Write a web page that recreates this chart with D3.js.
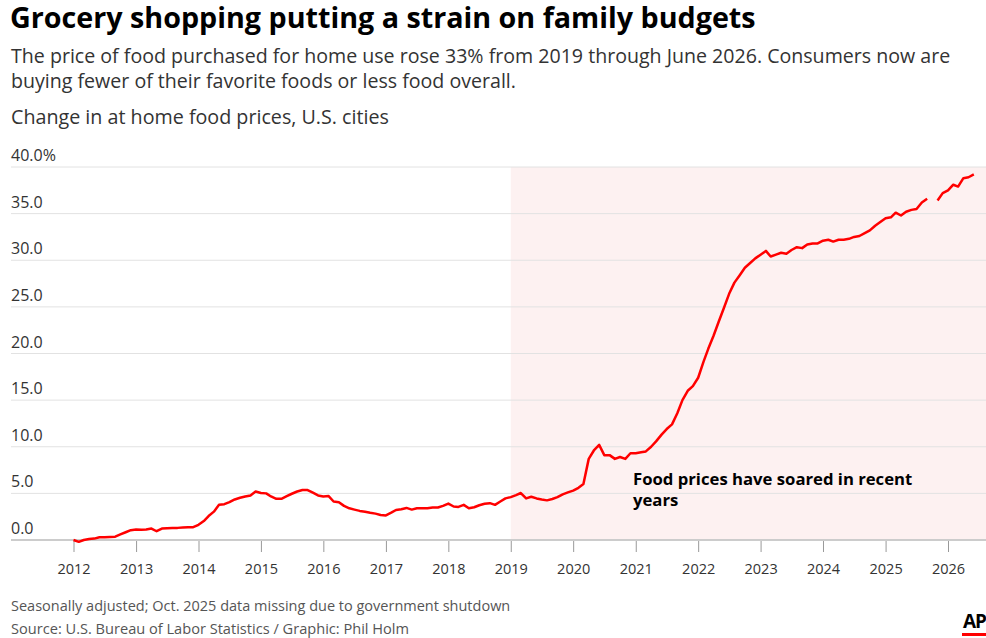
<!DOCTYPE html>
<html>
<head>
<meta charset="utf-8">
<script src="https://cdn.jsdelivr.net/npm/d3@7"></script>
<style>
  body { margin: 0; background: #fff; }
  svg text { font-family: "Open Sans", "Noto Sans", sans-serif; }
</style>
</head>
<body>
<div id="chart"></div>
<script>
const width = 986
const height = 638

// monthly change in at-home food prices, % since Jan 2012 (Oct 2025 missing)
const startMonth = new Date(2012, 0, 1)
const values = [
  0.0, -0.2, 0.0, 0.1, 0.15, 0.3, 0.3, 0.33, 0.36, 0.6, 0.83, 1.05,       // 2012
  1.12, 1.09, 1.12, 1.23, 0.94, 1.23, 1.27, 1.3, 1.3, 1.34, 1.38, 1.38,   // 2013
  1.63, 2.03, 2.57, 3.04, 3.77, 3.84, 4.06, 4.35, 4.53, 4.67, 4.78, 5.2,  // 2014
  5.04, 5.0, 4.67, 4.42, 4.42, 4.7, 4.96, 5.2, 5.36, 5.36, 5.07, 4.78,    // 2015
  4.67, 4.71, 4.13, 4.06, 3.66, 3.4, 3.26, 3.12, 3.04, 2.93, 2.83, 2.68,  // 2016
  2.64, 2.93, 3.22, 3.3, 3.44, 3.26, 3.4, 3.4, 3.4, 3.48, 3.48, 3.66,     // 2017
  3.91, 3.59, 3.55, 3.77, 3.4, 3.51, 3.73, 3.88, 3.95, 3.77, 4.13, 4.46,  // 2018
  4.6, 4.82, 5.04, 4.46, 4.64, 4.46, 4.35, 4.25, 4.4, 4.6, 4.9, 5.1,      // 2019
  5.3, 5.6, 6.0, 8.7, 9.6, 10.2, 9.1, 9.1, 8.7, 8.9, 8.7, 9.3,            // 2020
  9.3, 9.4, 9.5, 10.0, 10.6, 11.3, 11.9, 12.4, 13.6, 15.0, 16.0, 16.5,    // 2021
  17.4, 19.1, 20.5, 21.9, 23.4, 24.9, 26.4, 27.6, 28.4, 29.2, 29.7, 30.2, // 2022
  30.6, 31.0, 30.4, 30.6, 30.8, 30.7, 31.1, 31.4, 31.3, 31.7, 31.8, 31.8, // 2023
  32.1, 32.2, 32.0, 32.2, 32.2, 32.3, 32.5, 32.6, 32.9, 33.2, 33.7, 34.1, // 2024
  34.5, 34.6, 35.1, 34.8, 35.2, 35.4, 35.5, 36.2, 36.6, null, 36.4, 37.2, // 2025
  37.5, 38.1, 37.9, 38.8, 38.9, 39.2                                      // 2026
]
const yearTicks = [2012, 2013, 2014, 2015, 2016, 2017, 2018, 2019, 2020, 2021, 2022, 2023, 2024, 2025, 2026]
const yTicks = [0, 5, 10, 15, 20, 25, 30, 35, 40]
const shadeStart = new Date(2019, 0, 1)

const title = "Grocery shopping putting a strain on family budgets"
const subtitle = [
  "The price of food purchased for home use rose 33% from 2019 through June 2026. Consumers now are",
  "buying fewer of their favorite foods or less food overall."
]
const chartLabel = "Change in at home food prices, U.S. cities"
const note = ["Food prices have soared in recent", "years"]
const footnote = "Seasonally adjusted; Oct. 2025 data missing due to government shutdown"
const source = "Source: U.S. Bureau of Labor Statistics / Graphic: Phil Holm"

const data = values.map((v, i) => ({ date: d3.timeMonth.offset(startMonth, i), value: v }))

const svg = d3.select("#chart")
  .append("svg")
  .attr("width", width)
  .attr("height", height)

const x = d3.scaleTime()
  .domain([new Date(2012, 0, 1), new Date(2026, 0, 1)])
  .range([73.5, 948])
const y = d3.scaleLinear()
  .domain([0, 40])
  .range([540, 167])

/* headings */
svg.append("text")
  .attr("x", 10)
  .attr("y", 28)
  .attr("font-size", 28.7)
  .attr("font-weight", "bold")
  .attr("fill", "#000")
  .text(title)
svg.selectAll(".subtitle")
  .data(subtitle)
  .enter()
  .append("text")
  .attr("class", "subtitle")
  .attr("x", 11)
  .attr("y", (_, i) => 63 + i * 25)
  .attr("font-size", 19.6)
  .attr("fill", "#333")
  .text(d => d)
svg.append("text")
  .attr("x", 11)
  .attr("y", 124)
  .attr("font-size", 19.7)
  .attr("fill", "#333")
  .text(chartLabel)

/* shaded period */
svg.append("rect")
  .attr("x", x(shadeStart))
  .attr("y", y(40))
  .attr("width", width - x(shadeStart))
  .attr("height", y(0) - y(40))
  .attr("fill", "#fdf1f1")

/* grid + y labels */
svg.selectAll(".grid")
  .data(yTicks)
  .enter()
  .append("line")
  .attr("x1", 11)
  .attr("x2", width)
  .attr("y1", d => y(d))
  .attr("y2", d => y(d))
  .attr("stroke", d => d === 0 ? "#ccc" : "#e2e2e2")
  .attr("stroke-width", d => d === 0 ? 2 : 1)
svg.selectAll(".ylab")
  .data(yTicks)
  .enter()
  .append("text")
  .attr("x", 11)
  .attr("y", d => y(d) - 6)
  .attr("font-size", 16)
  .attr("fill", "#333")
  .text(d => d === 40 ? d.toFixed(1) + "%" : d.toFixed(1))

/* x axis */
const xAxis = svg.append("g")
  .attr("transform", `translate(0,${y(0) + 1})`)
  .call(d3.axisBottom(x)
    .tickValues(yearTicks.map(yr => new Date(yr, 0, 1)))
    .tickFormat(d3.timeFormat("%Y"))
    .tickSize(11)
    .tickPadding(12))
xAxis.select(".domain").remove()
xAxis.selectAll(".tick line").attr("stroke", "#999")
xAxis.selectAll(".tick text")
  .attr("font-size", 14.5)
  .attr("fill", "#333")
  .attr("font-family", "'Open Sans', sans-serif")

/* line */
const line = d3.line()
  .defined(d => d.value !== null)
  .x(d => x(d.date))
  .y(d => y(d.value))
svg.append("path")
  .datum(data)
  .attr("d", line)
  .attr("fill", "none")
  .attr("stroke", "#ff0000")
  .attr("stroke-width", 2.5)
  .attr("stroke-linejoin", "round")

/* annotation */
svg.selectAll(".note")
  .data(note)
  .enter()
  .append("text")
  .attr("x", 633)
  .attr("y", (_, i) => 485 + i * 21)
  .attr("font-size", 16.7)
  .attr("font-weight", "bold")
  .attr("fill", "#000")
  .text(d => d)

/* footer */
svg.append("text")
  .attr("x", 11)
  .attr("y", 611)
  .attr("font-size", 14.5)
  .attr("fill", "#555")
  .text(footnote)
svg.append("text")
  .attr("x", 11)
  .attr("y", 634)
  .attr("font-size", 14.6)
  .attr("fill", "#555")
  .text(source)

/* AP logo */
svg.append("text")
  .attr("x", 963)
  .attr("y", 628)
  .attr("font-size", 19)
  .attr("font-weight", "bold")
  .attr("fill", "#000")
  .attr("letter-spacing", -1)
  .text("AP")
svg.append("rect")
  .attr("x", 962)
  .attr("y", 633)
  .attr("width", 24)
  .attr("height", 3)
  .attr("fill", "#ff0000")
</script>
</body>
</html>
